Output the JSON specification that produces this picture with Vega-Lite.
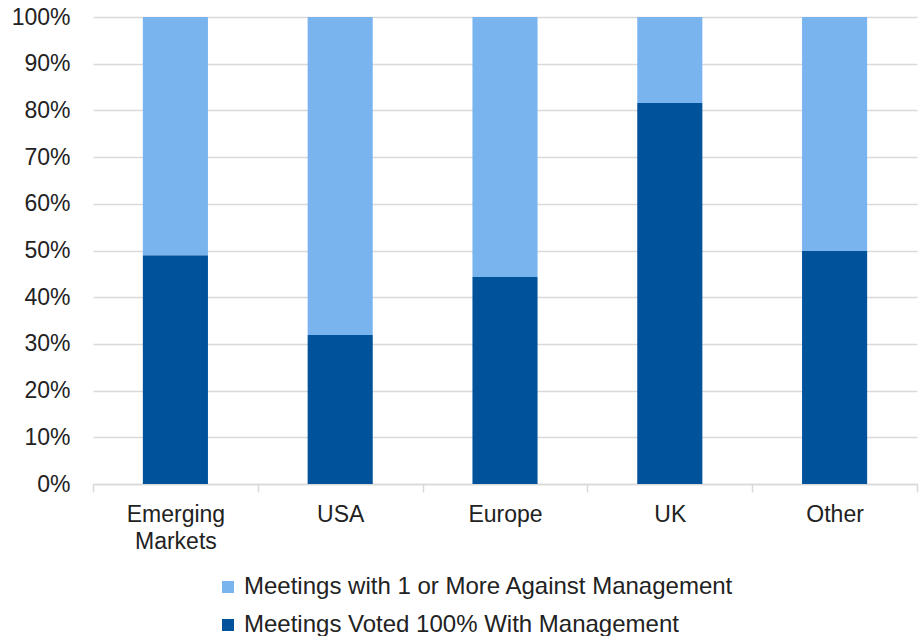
{
  "$schema": "https://vega.github.io/schema/vega-lite/v6.json",
  "width": 824,
  "height": 467,
  "autosize": {"type": "none"},
  "padding": {"left": 93, "top": 17, "right": 5, "bottom": 152},
  "background": "white",
  "config": {
    "view": {"stroke": null},
    "font": "Liberation Sans"
  },
  "data": {
    "values": [
      {"region": "Emerging Markets", "series": "Meetings Voted 100% With Management", "value": 49.0},
      {"region": "Emerging Markets", "series": "Meetings with 1 or More Against Management", "value": 51.0},
      {"region": "USA", "series": "Meetings Voted 100% With Management", "value": 31.9},
      {"region": "USA", "series": "Meetings with 1 or More Against Management", "value": 68.1},
      {"region": "Europe", "series": "Meetings Voted 100% With Management", "value": 44.3},
      {"region": "Europe", "series": "Meetings with 1 or More Against Management", "value": 55.7},
      {"region": "UK", "series": "Meetings Voted 100% With Management", "value": 81.6},
      {"region": "UK", "series": "Meetings with 1 or More Against Management", "value": 18.4},
      {"region": "Other", "series": "Meetings Voted 100% With Management", "value": 49.9},
      {"region": "Other", "series": "Meetings with 1 or More Against Management", "value": 50.1}
    ]
  },
  "mark": {"type": "bar", "width": {"band": 0.395}},
  "encoding": {
    "x": {
      "field": "region",
      "type": "nominal",
      "sort": ["Emerging Markets", "USA", "Europe", "UK", "Other"],
      "scale": {"paddingInner": 0, "paddingOuter": 0},
      "axis": {
        "title": null,
        "labelAngle": 0,
        "labelFontSize": 23,
        "labelColor": "#222222",
        "labelPadding": 11,
        "labelLineHeight": 27,
        "labelExpr": "datum.label == 'Emerging Markets' ? ['Emerging', 'Markets'] : datum.label",
        "tickBand": "extent",
        "tickColor": "#d9d9d9",
        "tickSize": 8,
        "tickWidth": 1.5,
        "domainColor": "#d9d9d9",
        "domainWidth": 1.5
      }
    },
    "y": {
      "field": "value",
      "type": "quantitative",
      "stack": "zero",
      "scale": {"domain": [0, 100], "nice": false},
      "axis": {
        "title": null,
        "values": [0, 10, 20, 30, 40, 50, 60, 70, 80, 90, 100],
        "labelExpr": "datum.value + '%'",
        "labelFontSize": 23,
        "labelColor": "#222222",
        "labelPadding": 23,
        "ticks": false,
        "domain": false,
        "grid": true,
        "gridColor": "#d9d9d9",
        "gridWidth": 1.5
      }
    },
    "color": {
      "field": "series",
      "type": "nominal",
      "scale": {
        "domain": ["Meetings with 1 or More Against Management", "Meetings Voted 100% With Management"],
        "range": ["#7ab4ee", "#00529b"]
      },
      "legend": {
        "title": null,
        "orient": "none",
        "legendX": 123,
        "legendY": 558,
        "direction": "vertical",
        "symbolType": "square",
        "symbolSize": 144,
        "symbolStrokeWidth": 0,
        "labelFontSize": 24,
        "labelColor": "#222222",
        "labelOffset": 4,
        "rowPadding": 14,
        "labelLimit": 800
      }
    },
    "order": {"field": "series", "sort": "ascending"}
  }
}
